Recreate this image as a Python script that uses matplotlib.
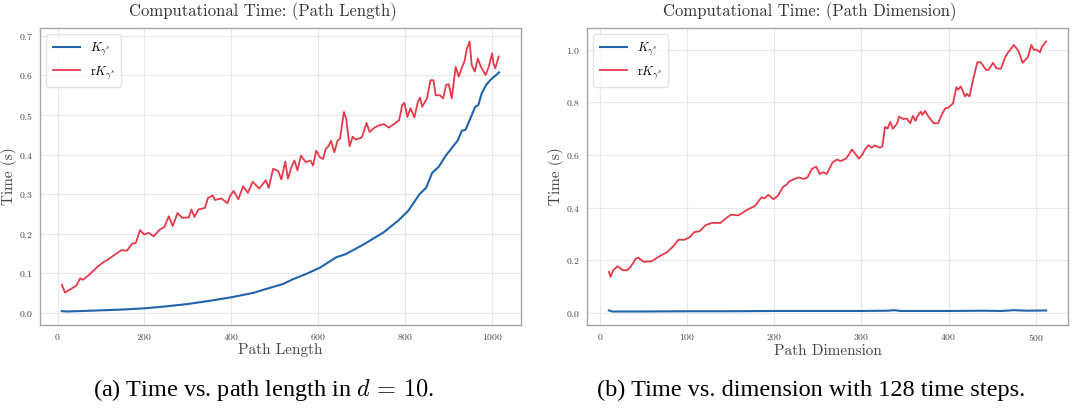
"""
Computational time figure: path length (left) and path dimension (right).
"""
import matplotlib
matplotlib.use("Agg")
import matplotlib.pyplot as plt

plt.rcParams["font.family"] = "serif"
plt.rcParams["font.serif"] = ["cmr10", "DejaVu Serif"]
plt.rcParams["mathtext.fontset"] = "cm"
plt.rcParams["axes.formatter.use_mathtext"] = True

BLUE = "#2264ab"
RED = "#e63a4b"

# --- (a) time vs path length, d = 10 ---
LEN_X_K = [10, 20, 50, 100, 150, 200, 250, 300, 350, 400, 450, 480, 520, 540,
           570, 604, 641, 663, 700, 750, 785, 807, 833, 848, 862, 877, 893, 906,
           921, 930, 939, 950, 961, 968, 976, 986, 997, 1008, 1016]
LEN_K = [0.004, 0.003, 0.004, 0.006, 0.008, 0.011, 0.016, 0.022, 0.030, 0.039,
         0.050, 0.060, 0.073, 0.084, 0.097, 0.114, 0.140, 0.148, 0.170, 0.203,
         0.234, 0.258, 0.300, 0.316, 0.354, 0.369, 0.397, 0.415, 0.436, 0.460,
         0.463, 0.492, 0.521, 0.525, 0.555, 0.576, 0.590, 0.600, 0.608]

LEN_X_RK = [10, 17, 43, 52, 58, 73, 88, 103, 117, 132, 147, 160, 172, 180, 190,
            199, 210, 221, 235, 246, 256, 265, 276, 287, 302, 308, 315, 324, 339,
            346, 357, 362, 377, 391, 397, 405, 416, 427, 438, 449, 464, 479, 486,
            496, 508, 515, 524, 530, 538, 545, 552, 560, 571, 582, 588, 595, 604,
            611, 617, 624, 629, 637, 644, 650, 656, 659, 664, 672, 679, 686, 700,
            711, 718, 729, 740, 751, 762, 774, 786, 793, 798, 805, 812, 821, 829,
            834, 839, 850, 858, 865, 870, 880, 887, 894, 900, 907, 916, 923, 931,
            936, 942, 948, 953, 960, 967, 974, 985, 992, 1000, 1003, 1007, 1015]
LEN_RK = [0.071, 0.051, 0.068, 0.087, 0.083, 0.096, 0.112, 0.126, 0.135, 0.147,
          0.158, 0.157, 0.175, 0.176, 0.209, 0.198, 0.202, 0.193, 0.210, 0.217,
          0.244, 0.219, 0.252, 0.240, 0.241, 0.261, 0.242, 0.261, 0.265, 0.290,
          0.297, 0.285, 0.289, 0.277, 0.295, 0.308, 0.287, 0.320, 0.303, 0.331,
          0.314, 0.335, 0.316, 0.364, 0.358, 0.337, 0.382, 0.339, 0.368, 0.385,
          0.360, 0.397, 0.381, 0.385, 0.372, 0.410, 0.393, 0.389, 0.414, 0.422,
          0.435, 0.406, 0.435, 0.440, 0.487, 0.508, 0.491, 0.421, 0.445, 0.438,
          0.443, 0.480, 0.457, 0.468, 0.474, 0.477, 0.468, 0.477, 0.487, 0.525,
          0.531, 0.495, 0.517, 0.494, 0.533, 0.544, 0.521, 0.542, 0.588, 0.588,
          0.550, 0.550, 0.542, 0.576, 0.578, 0.542, 0.622, 0.597, 0.622, 0.635,
          0.669, 0.686, 0.626, 0.610, 0.643, 0.622, 0.601, 0.622, 0.656, 0.631,
          0.618, 0.648]

# --- (b) time vs path dimension, 128 time steps ---
DIM_X_K = [10, 14, 50, 100, 150, 200, 250, 300, 330, 338, 345, 400, 440, 460,
           475, 490, 512]
DIM_K = [0.009, 0.005, 0.005, 0.006, 0.006, 0.007, 0.007, 0.007, 0.008, 0.010,
         0.007, 0.007, 0.008, 0.007, 0.010, 0.008, 0.009]

DIM_X_RK = [10, 12, 15, 20, 26, 31, 35, 41, 44, 50, 59, 68, 77, 83, 90, 97, 103,
            108, 114, 121, 128, 138, 145, 150, 159, 165, 169, 178, 185, 189, 193,
            199, 204, 210, 214, 217, 223, 228, 234, 238, 243, 248, 252, 256, 260,
            263, 267, 272, 276, 282, 285, 289, 293, 297, 301, 304, 308, 312, 315,
            321, 324, 327, 330, 333, 336, 341, 343, 348, 352, 356, 359, 362, 364,
            368, 370, 373, 377, 383, 388, 392, 396, 400, 405, 409, 411, 414, 419,
            421, 424, 428, 433, 437, 443, 446, 451, 455, 460, 465, 468, 475, 480,
            485, 491, 495, 498, 501, 505, 507, 512]
DIM_RK = [0.156, 0.137, 0.162, 0.177, 0.162, 0.162, 0.175, 0.206, 0.209, 0.194,
          0.196, 0.215, 0.231, 0.250, 0.278, 0.278, 0.288, 0.307, 0.310, 0.333,
          0.342, 0.342, 0.361, 0.373, 0.371, 0.384, 0.392, 0.407, 0.439, 0.436,
          0.449, 0.432, 0.445, 0.479, 0.487, 0.500, 0.509, 0.515, 0.509, 0.515,
          0.547, 0.556, 0.528, 0.535, 0.528, 0.547, 0.573, 0.583, 0.577, 0.586,
          0.599, 0.621, 0.605, 0.586, 0.602, 0.621, 0.637, 0.628, 0.637, 0.628,
          0.633, 0.707, 0.701, 0.726, 0.700, 0.721, 0.746, 0.737, 0.739, 0.721,
          0.749, 0.730, 0.746, 0.765, 0.753, 0.768, 0.746, 0.721, 0.721, 0.753,
          0.777, 0.781, 0.796, 0.858, 0.849, 0.861, 0.823, 0.833, 0.823, 0.884,
          0.953, 0.953, 0.924, 0.924, 0.951, 0.930, 0.928, 0.972, 0.989, 1.019,
          0.997, 0.951, 0.972, 1.019, 1.000, 1.001, 0.991, 1.011, 1.032]

LABEL_K = r"$K_{\gamma^s}$"
LABEL_RK = r"r$K_{\gamma^s}$"

W, H = 1089, 409


def style_axes(ax):
    for s in ax.spines.values():
        s.set_color("#a6a6a6")
        s.set_linewidth(1.0)
    ax.set_facecolor("white")
    ax.grid(True, color="#e8e8e8", linewidth=0.8)
    ax.set_axisbelow(True)
    ax.tick_params(length=0, labelsize=7, labelcolor="#444444", pad=5)


fig = plt.figure(figsize=(W / 100, H / 100), dpi=100)
ax1 = fig.add_axes([40 / W, 1 - 325 / H, (521 - 40) / W, (325 - 28) / H])
ax2 = fig.add_axes([587 / W, 1 - 325 / H, (1068 - 587) / W, (325 - 28) / H])

for ax, xk, yk, xr, yr, xlabel, title, tx in [
    (ax1, LEN_X_K, LEN_K, LEN_X_RK, LEN_RK, "Path Length",
     "Computational Time: (Path Length)", 263),
    (ax2, DIM_X_K, DIM_K, DIM_X_RK, DIM_RK, "Path Dimension",
     "Computational Time: (Path Dimension)", 810),
]:
    ax.plot(xk, yk, color=BLUE, linewidth=1.5, label=LABEL_K)
    ax.plot(xr, yr, color=RED, linewidth=1.3, label=LABEL_RK)
    style_axes(ax)
    ax.set_xlabel(xlabel, fontsize=11, color="#444444", labelpad=1)
    ax.set_ylabel("Time (s)", fontsize=11, color="#444444")
    ax.yaxis.set_label_coords(-0.047, 0.5)
    leg = ax.legend(loc="upper left", fontsize=9, frameon=True,
                    handlelength=2.2, borderpad=0.5, labelspacing=0.5)
    leg.get_frame().set_edgecolor("#dddddd")
    fig.text(tx / W, 1 - 12 / H, title, ha="center", va="center",
             fontsize=12, color="#333333")

ax1.set_xticks([0, 200, 400, 600, 800, 1000])
ax1.set_yticks([0.0, 0.1, 0.2, 0.3, 0.4, 0.5, 0.6, 0.7])
ax2.set_xticks([0, 100, 200, 300, 400, 500])
ax2.set_yticks([0.0, 0.2, 0.4, 0.6, 0.8, 1.0])

cap = dict(ha="center", va="center", fontsize=17.5, family="Liberation Serif",
           color="black")
fig.text(264 / W, 1 - 390 / H, r"(a) Time vs. path length in $d\,=\,10$.", **cap)
fig.text(811 / W, 1 - 390 / H, "(b) Time vs. dimension with 128 time steps.", **cap)

fig.savefig("out.png", dpi=100)
